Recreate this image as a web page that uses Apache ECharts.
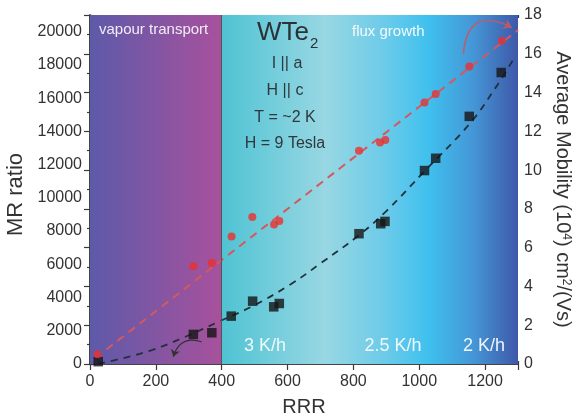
<!DOCTYPE html>
<html>
<head>
<meta charset="utf-8">
<script src="https://cdn.jsdelivr.net/npm/echarts@6/dist/echarts.min.js"></script>
<style>
  html, body { margin: 0; padding: 0; background: #fff; }
  #chart { width: 578px; height: 419px; }
</style>
</head>
<body>
<div id="chart"></div>
<script>
// MR ratio (left axis) versus residual resistance ratio
const mrRRR   = [25, 314, 370, 429, 494, 558, 575, 817, 883, 896, 1016, 1050, 1152, 1249];
const mrRatio = [140, 1780, 1880, 2880, 3780, 3440, 3640, 7840, 8440, 8580, 11640, 12380, 14900, 17540];

// Average mobility, units of 10^4 cm^2/(Vs) (right axis)
const mobRRR   = [23, 314, 370, 430, 493, 559, 575, 817, 881, 897, 1016, 1050, 1152, 1251];
const mobility = [0.5, 5.04, 5.21, 6.58, 7.58, 7.2, 7.37, 11.0, 11.43, 11.55, 13.49, 13.92, 15.34, 16.67];

// Dashed guide curves
const mrFitRRR  = [25, 100, 190, 290, 390, 490, 610, 700, 817, 900, 1016, 1155, 1231, 1285];
const mrFitVal  = [0, 350, 850, 1640, 2540, 3440, 4800, 6050, 7750, 9200, 11600, 14500, 16600, 18300];
const mobFitRRR = [50, 1300];
const mobFitVal = [0.75, 17.22];

// Growth regions along RRR
const regionEdges = [0, 400, 1300];

// Axis ranges
const xRange = [0, 1300];
const yLeftRange = [0, 21000];
const yRightRange = [0, 18];

// Curved pointers from each data set toward its axis
const mrPointer  = [[339, 1340], [253, 438]];
const mobPointer = [[1134, 15.98], [1281, 17.35]];

const FONT = 'Liberation Sans, Arial, sans-serif';
const AX = '#3a3a3a';
const zip = (a, b) => a.map((v, i) => [v, b[i]]);
const plain = v => String(v);

const chart = echarts.init(document.getElementById('chart'), null, { renderer: 'canvas' });

const tickOnly = (pos, interval, len, extra) => Object.assign({
  type: 'value', position: pos, min: xRange[0], max: xRange[1], interval: interval,
  axisLine: { show: false }, splitLine: { show: false }, axisLabel: { show: false },
  axisTick: { show: true, inside: true, length: len, lineStyle: { color: AX, width: 1.2 } }
}, extra || {});

const option = {
  backgroundColor: '#ffffff',
  animation: false,
  grid: { left: 90, right: 60, top: 15, bottom: 55, containLabel: false, outerBoundsMode: 'none' },
  xAxis: [
    {
      type: 'value', position: 'bottom', min: xRange[0], max: xRange[1], interval: 200,
      name: 'RRR', nameLocation: 'middle', nameGap: 33,
      nameTextStyle: { fontFamily: FONT, fontSize: 20, color: '#333' },
      axisLine: { show: true, lineStyle: { color: AX, width: 1.5 } },
      axisTick: { show: true, inside: true, length: 6, lineStyle: { color: AX, width: 1.2 } },
      axisLabel: { fontFamily: FONT, fontSize: 16, color: '#333', margin: 10, showMaxLabel: false, formatter: plain },
      splitLine: { show: false }
    },
    tickOnly('bottom', 100, 3),
    tickOnly('top', 200, 6, { axisLine: { show: true, lineStyle: { color: AX, width: 1.5 } } }),
    tickOnly('top', 100, 3)
  ],
  yAxis: [
    {
      type: 'value', position: 'left', min: yLeftRange[0], max: yLeftRange[1], interval: 2000,
      name: 'MR ratio', nameLocation: 'middle', nameGap: 62, nameRotate: 90,
      nameTextStyle: { fontFamily: FONT, fontSize: 22, color: '#333', padding: [0, 10, 0, 0] },
      axisLine: { show: true, lineStyle: { color: AX, width: 1.5 } },
      axisTick: { show: true, inside: true, length: 6, lineStyle: { color: AX, width: 1.2 } },
      axisLabel: { fontFamily: FONT, fontSize: 16, color: '#333', margin: 8, showMaxLabel: false, formatter: plain },
      splitLine: { show: false }
    },
    {
      type: 'value', position: 'right', min: yRightRange[0], max: yRightRange[1], interval: 2,
      name: 'Average Mobility (10{sup|4}) cm{sup|2}/(Vs)', nameLocation: 'middle', nameGap: 29, nameRotate: -90,
      nameTextStyle: {
        fontFamily: FONT, fontSize: 20, color: '#333',
        rich: { sup: { fontFamily: FONT, fontSize: 12, color: '#333', verticalAlign: 'top' } }
      },
      axisLine: { show: true, lineStyle: { color: AX, width: 1.5 } },
      axisTick: { show: true, inside: true, length: 6, lineStyle: { color: AX, width: 1.2 } },
      minorTick: { show: true, splitNumber: 2, length: 3, lineStyle: { color: AX, width: 1.2 } },
      axisLabel: { fontFamily: FONT, fontSize: 16, color: '#333', margin: 6, formatter: plain },
      splitLine: { show: false }
    },
    {
      type: 'value', position: 'left', min: yLeftRange[0], max: yLeftRange[1], interval: 1000,
      axisLine: { show: false }, splitLine: { show: false }, axisLabel: { show: false },
      axisTick: { show: true, inside: true, length: 3, lineStyle: { color: AX, width: 1.2 } }
    }
  ],
  series: [
    {
      // background shading of the two growth regions
      type: 'line', data: [], xAxisIndex: 0, yAxisIndex: 0, z: 1, silent: true,
      markArea: {
        silent: true,
        data: [
          [{ xAxis: regionEdges[0], itemStyle: { color: new echarts.graphic.LinearGradient(0, 0, 1, 0, [
              { offset: 0, color: '#5d5aa9' }, { offset: 1, color: '#a8519c' }]) } },
           { xAxis: regionEdges[1] }],
          [{ xAxis: regionEdges[1], itemStyle: { color: new echarts.graphic.LinearGradient(0, 0, 1, 0, [
              { offset: 0, color: '#4fc3d3' }, { offset: 0.35, color: '#98d7e3' },
              { offset: 0.55, color: '#6ccbe9' }, { offset: 0.7, color: '#3fc0ee' },
              { offset: 0.85, color: '#4596d6' }, { offset: 1, color: '#3e58a9' }]) } },
           { xAxis: regionEdges[2] }]
        ]
      },
      markLine: {
        silent: true, symbol: ['none', 'none'], label: { show: false },
        lineStyle: { color: '#555', width: 1, type: 'solid' },
        data: [{ xAxis: regionEdges[1] }]
      }
    },
    {
      type: 'line', xAxisIndex: 0, yAxisIndex: 0, z: 3, smooth: 0.4, symbol: 'none',
      data: zip(mrFitRRR, mrFitVal),
      lineStyle: { color: '#22303e', width: 1.8, type: [7, 6] }
    },
    {
      type: 'line', xAxisIndex: 0, yAxisIndex: 1, z: 3, symbol: 'none',
      data: zip(mobFitRRR, mobFitVal),
      lineStyle: { color: '#d6585d', width: 2, type: [8, 6] }
    },
    {
      type: 'scatter', xAxisIndex: 0, yAxisIndex: 0, z: 5, symbol: 'rect', symbolSize: 9.5,
      data: zip(mrRRR, mrRatio), itemStyle: { color: '#151515' }
    },
    {
      type: 'scatter', xAxisIndex: 0, yAxisIndex: 1, z: 5, symbol: 'circle', symbolSize: 8,
      data: zip(mobRRR, mobility), itemStyle: { color: '#ec2f2d' }
    },
    {
      type: 'lines', coordinateSystem: 'cartesian2d', xAxisIndex: 0, yAxisIndex: 0, z: 4,
      symbol: ['none', 'arrow'], symbolSize: 7,
      lineStyle: { color: '#333', width: 1.2, curveness: -0.5, opacity: 1 },
      data: [{ coords: mrPointer }]
    },
    {
      type: 'lines', coordinateSystem: 'cartesian2d', xAxisIndex: 0, yAxisIndex: 1, z: 4,
      symbol: ['none', 'arrow'], symbolSize: 8,
      lineStyle: { color: '#c25a66', width: 1.6, curveness: 0.75, opacity: 0.9 },
      data: [{ coords: mobPointer }]
    }
  ],
  graphic: [
    { type: 'text', z: 100, left: 99, top: 22, style: { text: 'vapour transport', fontFamily: FONT, fontSize: 15, fill: '#f2ecf6' } },
    { type: 'text', z: 100, left: 352, top: 24, style: { text: 'flux growth', fontFamily: FONT, fontSize: 15, fill: '#f4fbfd' } },
    { type: 'text', z: 100, left: 257, top: 20, style: {
        text: '{b|WTe}{s|2}', fill: '#2a3236',
        rich: { b: { fontFamily: FONT, fontSize: 26, fill: '#2a3236' },
                s: { fontFamily: FONT, fontSize: 15, fill: '#2a3236', padding: [22, 0, 0, 1] } } } },
    { type: 'text', z: 100, x: 287, y: 64, style: { text: 'I || a', fontFamily: FONT, fontSize: 16, fill: '#2f383c', align: 'center', verticalAlign: 'middle' } },
    { type: 'text', z: 100, x: 285, y: 91, style: { text: 'H || c', fontFamily: FONT, fontSize: 16, fill: '#2f383c', align: 'center', verticalAlign: 'middle' } },
    { type: 'text', z: 100, x: 285, y: 118, style: { text: 'T = ~2 K', fontFamily: FONT, fontSize: 16, fill: '#2f383c', align: 'center', verticalAlign: 'middle' } },
    { type: 'text', z: 100, x: 285, y: 144, style: { text: 'H = 9 Tesla', fontFamily: FONT, fontSize: 16, fill: '#2f383c', align: 'center', verticalAlign: 'middle' } },
    { type: 'text', z: 100, x: 265, y: 346, style: { text: '3 K/h', fontFamily: FONT, fontSize: 18, fill: '#eef9fb', align: 'center', verticalAlign: 'middle' } },
    { type: 'text', z: 100, x: 393, y: 346, style: { text: '2.5 K/h', fontFamily: FONT, fontSize: 18, fill: '#eef9fb', align: 'center', verticalAlign: 'middle' } },
    { type: 'text', z: 100, x: 484, y: 346, style: { text: '2 K/h', fontFamily: FONT, fontSize: 18, fill: '#eef6fb', align: 'center', verticalAlign: 'middle' } }
  ]
};

chart.setOption(option);
</script>
</body>
</html>
